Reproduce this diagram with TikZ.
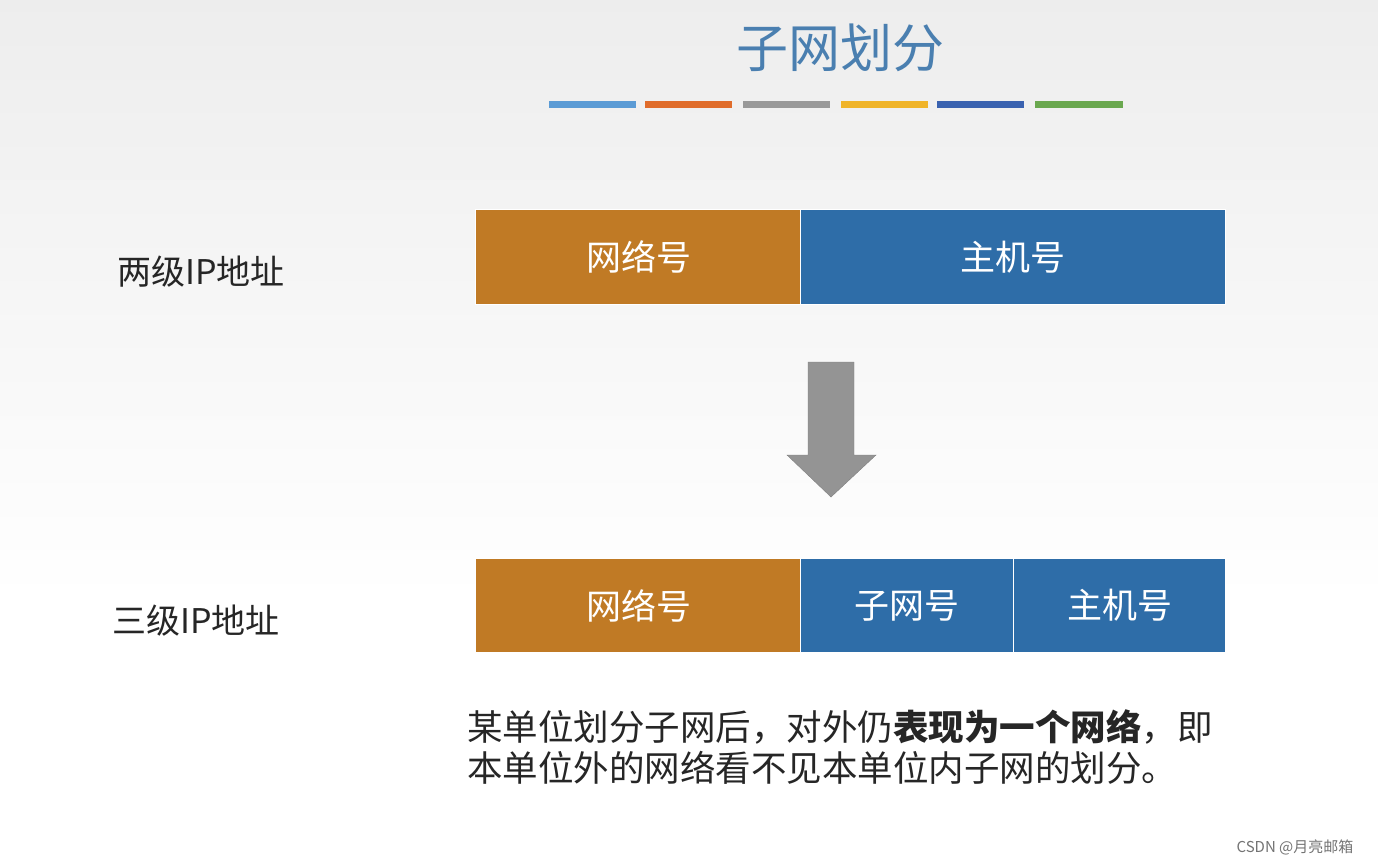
\documentclass[tikz,border=0pt]{standalone}
\usepackage{fontspec}
\setmainfont{Noto Sans CJK SC}
\definecolor{brn}{HTML}{C07A25}
\definecolor{blu}{HTML}{2E6DA8}
\definecolor{ttl}{HTML}{4A7FB0}
\begin{document}
\begin{tikzpicture}[x=1pt,y=-1pt,
  fld/.style={draw=white,line width=1pt,text=white,font=\fontsize{35}{40}\selectfont},
  lbl/.style={text=black!85,font=\fontsize{34}{40}\selectfont},
  bar/.style={line width=7pt}]
\shade[top color=black!7,bottom color=white] (0,0) rectangle (1378,600);
\fill[white] (0,600) rectangle (1378,865);
\useasboundingbox (0,0) rectangle (1378,865);
\node (title) at (840,48) {\color{ttl}\fontsize{52}{58}\selectfont 子网划分};
\draw[bar,color={rgb,255:red,91;green,155;blue,213}] (549,104) -- (636,104);
\draw[bar,color={rgb,255:red,224;green,108;blue,43}] (645,104) -- (732,104);
\draw[bar,color=black!40] (743,104) -- (830,104);
\draw[bar,color={rgb,255:red,240;green,180;blue,41}] (841,104) -- (928,104);
\draw[bar,color={rgb,255:red,58;green,98;blue,176}] (937,104) -- (1024,104);
\draw[bar,color={rgb,255:red,106;green,168;blue,79}] (1035,104) -- (1123,104);
% row1
\node[fld,fill=brn,minimum width=326,minimum height=95,anchor=north west] (n1) at (475,209) {网络号};
\node[fld,fill=blu,minimum width=425,minimum height=95,anchor=north west] (h1) at (800,209) {主机号};
\node[lbl] (l1) at (201,272) {两级IP地址};
% arrow
\draw[fill=black!42,draw=black!50] (808,362) -- (854,362) -- (854,455) -- (876,455) -- (831,497) -- (787,455) -- (808,455) -- cycle;
% row2
\node[fld,fill=brn,minimum width=326,minimum height=94,anchor=north west] (n2) at (475,558) {网络号};
\node[fld,fill=blu,minimum width=213,minimum height=94,anchor=north west] (s2) at (800,558) {子网号};
\node[fld,fill=blu,minimum width=212,minimum height=94,anchor=north west] (h2) at (1013,558) {主机号};
\node[lbl] (l2) at (196,621) {三级IP地址};
\node[anchor=west,inner sep=0pt,text=black!85,font=\fontsize{35.5}{40}\selectfont] (t1) at (467,727) {某单位划分子网后，对外仍\textbf{表现为一个网络}，即};
\node[anchor=west,inner sep=0pt,text=black!85,font=\fontsize{35.5}{40}\selectfont] (t2) at (467,768) {本单位外的网络看不见本单位内子网的划分。};
\node[text=black!55,font=\fontsize{15}{18}\selectfont] (wm) at (1295,847) {CSDN @月亮邮箱};
\end{tikzpicture}
\end{document}
